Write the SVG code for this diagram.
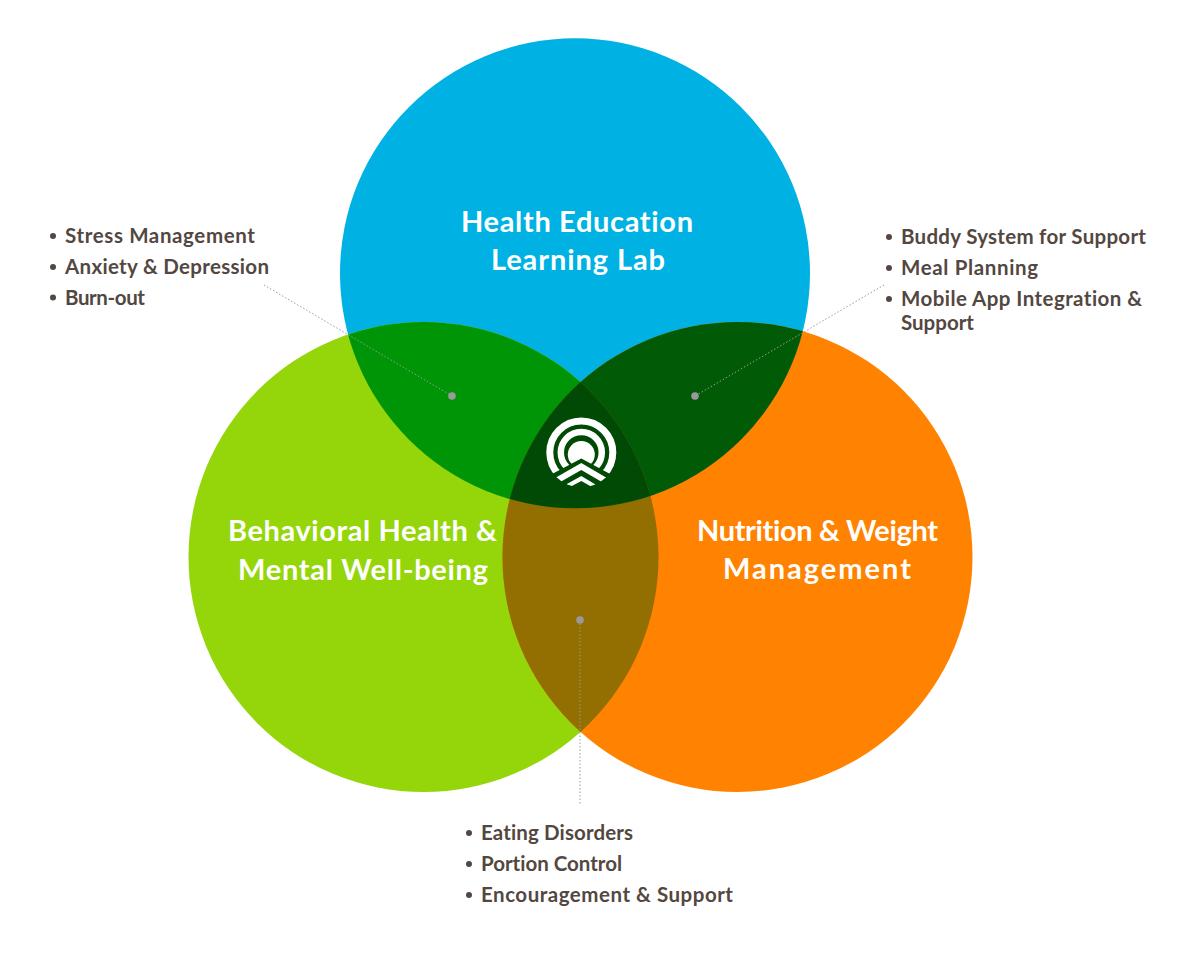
<svg xmlns="http://www.w3.org/2000/svg" width="1200" height="956" viewBox="0 0 1200 956">
<style>
.h{font-family:"Lato","Liberation Sans",sans-serif;font-weight:700;font-size:29px;fill:#fff;font-variant-ligatures:none}
.t{font-family:"Lato","Liberation Sans",sans-serif;font-weight:700;font-size:20.5px;fill:#534741;font-variant-ligatures:none}
.b{fill:#534741}
.c{fill:none;stroke:#9a9a9a;stroke-width:1;stroke-dasharray:1.5 2}
.d{fill:#9a9a9a}
</style>
<defs>
<clipPath id="cb"><circle cx="575" cy="273.300" r="235"/></clipPath>
<clipPath id="cg"><circle cx="423.500" cy="557" r="235"/></clipPath>
<clipPath id="cup"><polygon points="540,410 625,410 625,482 581.300,458.500 537,482"/></clipPath>
<clipPath id="cl"><circle cx="581.300" cy="452.500" r="35"/></clipPath>
</defs>
<rect width="1200" height="956" fill="#fff"/>
<g id="circle-education"><circle cx="575" cy="273.300" r="235" fill="#00B2E3"/></g>
<g id="circle-behavioral"><circle cx="423.500" cy="557" r="235" fill="#94D60A"/></g>
<g id="circle-nutrition"><circle cx="737.500" cy="557" r="235" fill="#FF8200"/></g>
<g id="overlaps">
<g clip-path="url(#cb)"><circle cx="423.500" cy="557" r="235" fill="#009507"/><circle cx="737.500" cy="557" r="235" fill="#005A06"/></g>
<g clip-path="url(#cg)"><circle cx="737.500" cy="557" r="235" fill="#926F00"/></g>
<g clip-path="url(#cb)"><g clip-path="url(#cg)"><circle cx="737.500" cy="557" r="235" fill="#004A05"/></g></g>
</g>
<g id="connectors">
<path class="c" d="M264 285L452 396"/>
<path class="c" d="M884 285L695 396"/>
<path class="c" d="M580 620V805"/>
<circle class="d" cx="452" cy="396" r="3.8"/>
<circle class="d" cx="695" cy="396" r="3.8"/>
<circle class="d" cx="580" cy="620" r="3.8"/>
</g>
<g id="logo" fill="#fff">
<g clip-path="url(#cup)">
<circle cx="581.300" cy="452.500" r="31.500" fill="none" stroke="#fff" stroke-width="7"/>
<circle cx="581.300" cy="452.500" r="20.500" fill="none" stroke="#fff" stroke-width="6.500"/>
<circle cx="581.300" cy="454.500" r="13.500"/>
</g>
<g clip-path="url(#cl)">
<polygon points="581.300,463 555.500,477.700 560.700,481.700 581.300,470 601.500,481.700 606.500,477.700"/>
<polygon points="581.300,476 566,484.500 570,487 581.300,481 592,487 595.500,484.500"/>
</g>
</g>
<g id="label-education"><text class="h" x="461" y="232" textLength="232">Health Education</text><text class="h" x="491" y="270" textLength="174">Learning Lab</text></g>
<g id="label-behavioral"><text class="h" x="228" y="541" textLength="269">Behavioral Health &amp;</text><text class="h" x="238" y="580" textLength="250">Mental Well-being</text></g>
<g id="label-nutrition"><text class="h" x="697" y="541" textLength="241">Nutrition &amp; Weight</text><text class="h" x="723" y="579" textLength="188">Management</text></g>
<g id="list-behavioral">
<circle class="b" cx="53" cy="236" r="3"/><text class="t" x="65" y="243" textLength="190">Stress Management</text>
<circle class="b" cx="53" cy="267" r="3"/><text class="t" x="65" y="274" textLength="204">Anxiety &amp; Depression</text>
<circle class="b" cx="53" cy="297.500" r="3"/><text class="t" x="65" y="304.500" textLength="80">Burn-out</text>
</g>
<g id="list-nutrition">
<circle class="b" cx="889" cy="237" r="3"/><text class="t" x="901" y="244" textLength="245">Buddy System for Support</text>
<circle class="b" cx="889" cy="268" r="3"/><text class="t" x="901" y="275" textLength="137">Meal Planning</text>
<circle class="b" cx="889" cy="299" r="3"/><text class="t" x="901" y="306" textLength="241">Mobile App Integration &amp;</text>
<text class="t" x="901" y="330" textLength="73">Support</text>
</g>
<g id="list-overlap">
<circle class="b" cx="469" cy="833" r="3"/><text class="t" x="481" y="840" textLength="152">Eating Disorders</text>
<circle class="b" cx="469" cy="864" r="3"/><text class="t" x="481" y="871" textLength="141">Portion Control</text>
<circle class="b" cx="469" cy="895" r="3"/><text class="t" x="481" y="902" textLength="252">Encouragement &amp; Support</text>
</g>
</svg>
